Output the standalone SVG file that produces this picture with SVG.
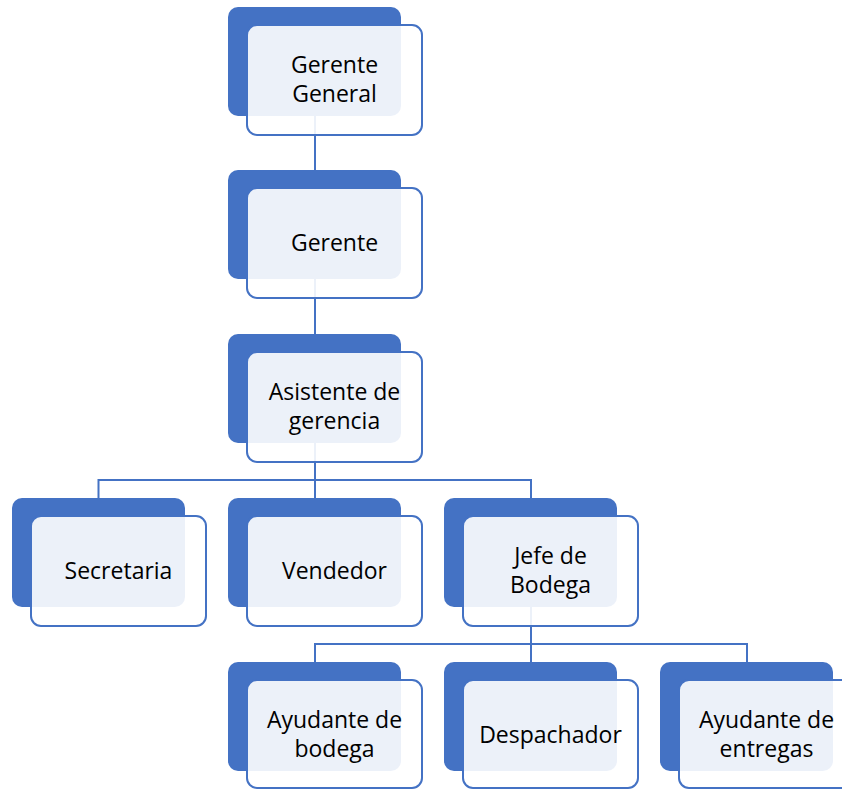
<svg xmlns="http://www.w3.org/2000/svg" width="842" height="790" viewBox="0 0 842 790">
  <defs>
    <style>
      .back { fill: #4472C4; }
      .front { fill: #FFFFFF; fill-opacity: 0.9; stroke: #4472C4; stroke-width: 2; }
      .link { fill: none; stroke: #4472C4; stroke-width: 2; }
      .label { font-family: "Open Sans", "Liberation Sans", sans-serif; font-size: 23px; fill: #000000; text-anchor: middle; }
    </style>
  </defs>
  <rect width="842" height="790" fill="#FFFFFF"/>

  <!-- connectors (drawn first so the translucent cards sit over them) -->
  <g id="connectors">
    <path class="link" d="M315 116 V170"/>
    <path class="link" d="M315 279 V334"/>
    <path class="link" d="M315 443 V480 M98.5 498 V480 H531 V498 M315 480 V498"/>
    <path class="link" d="M531 607 V644 M315 662 V644 H747 V662 M531 644 V662"/>
  </g>

  <g id="gerente-general">
    <rect class="back" x="228" y="7" width="173" height="109" rx="10"/>
    <rect class="front" x="247" y="25" width="175" height="110" rx="10"/>
    <text class="label" x="334.5" y="73">Gerente</text>
    <text class="label" x="334.5" y="102">General</text>
  </g>

  <g id="gerente">
    <rect class="back" x="228" y="170" width="173" height="109" rx="10"/>
    <rect class="front" x="247" y="188" width="175" height="110" rx="10"/>
    <text class="label" x="334.5" y="250.5">Gerente</text>
  </g>

  <g id="asistente">
    <rect class="back" x="228" y="334" width="173" height="109" rx="10"/>
    <rect class="front" x="247" y="352" width="175" height="110" rx="10"/>
    <text class="label" x="334.5" y="400">Asistente de</text>
    <text class="label" x="334.5" y="429">gerencia</text>
  </g>

  <g id="secretaria">
    <rect class="back" x="12" y="498" width="173" height="109" rx="10"/>
    <rect class="front" x="31" y="516" width="175" height="110" rx="10"/>
    <text class="label" x="118.5" y="578.5">Secretaria</text>
  </g>

  <g id="vendedor">
    <rect class="back" x="228" y="498" width="173" height="109" rx="10"/>
    <rect class="front" x="247" y="516" width="175" height="110" rx="10"/>
    <text class="label" x="334.5" y="578.5">Vendedor</text>
  </g>

  <g id="jefe-bodega">
    <rect class="back" x="444" y="498" width="173" height="109" rx="10"/>
    <rect class="front" x="463" y="516" width="175" height="110" rx="10"/>
    <text class="label" x="550.5" y="564">Jefe de</text>
    <text class="label" x="550.5" y="593">Bodega</text>
  </g>

  <g id="ayudante-bodega">
    <rect class="back" x="228" y="662" width="173" height="109" rx="10"/>
    <rect class="front" x="247" y="680" width="175" height="108" rx="10"/>
    <text class="label" x="334.5" y="728">Ayudante de</text>
    <text class="label" x="334.5" y="757">bodega</text>
  </g>

  <g id="despachador">
    <rect class="back" x="444" y="662" width="173" height="109" rx="10"/>
    <rect class="front" x="463" y="680" width="175" height="108" rx="10"/>
    <text class="label" x="550.5" y="742.5">Despachador</text>
  </g>

  <g id="ayudante-entregas">
    <rect class="back" x="660" y="662" width="173" height="109" rx="10"/>
    <rect class="front" x="679" y="680" width="175" height="108" rx="10"/>
    <text class="label" x="766.5" y="728">Ayudante de</text>
    <text class="label" x="766.5" y="757">entregas</text>
  </g>
</svg>
